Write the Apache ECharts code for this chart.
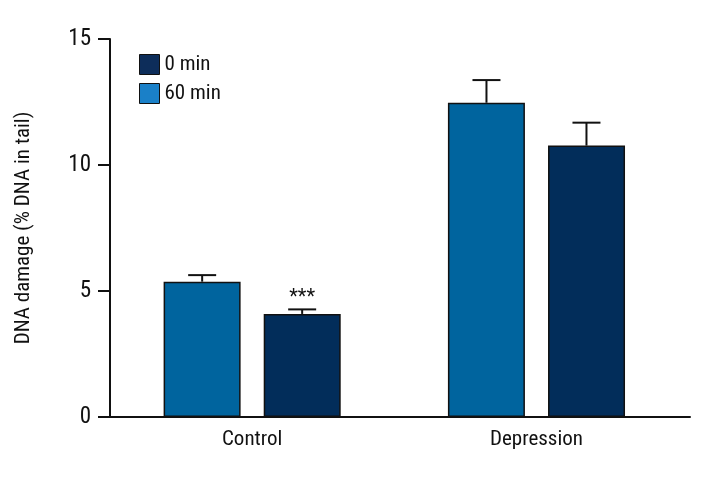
<!DOCTYPE html>
<html><head><meta charset="utf-8">
<script src="https://cdn.jsdelivr.net/npm/echarts@6/dist/echarts.min.js"></script>
<style>html,body{margin:0;padding:0;background:#fff}#c{width:720px;height:480px}</style>
</head><body><div id="c"></div>
<script>
const categories = ['Control', 'Depression'];
const min60 = [5.37, 12.47];
const min60Err = [0.26, 0.90];
const min0 = [4.09, 10.77];
const min0Err = [0.18, 0.91];
const sig0 = ['***', ''];
const yTicks = [0, 5, 10, 15];

const FONT = '"Liberation Sans Narrow", "Roboto Condensed", Roboto, sans-serif';
const BAR_W = 77, GAP = 23;
const chart = echarts.init(document.getElementById('c'));

function errSeries(name, vals, errs, offset, labels) {
  return {
    type: 'custom', name: name + ' err', silent: true, z: 5,
    data: vals.map((v, i) => [i, v, v + errs[i]]),
    renderItem: (params, api) => {
      const x = api.value(0), y = api.value(1), hi = api.value(2);
      const b = api.coord([x, y]), t = api.coord([x, hi]);
      const cx = b[0] + offset;
      const st = { stroke: '#111', lineWidth: 2 };
      const ch = [
        { type: 'line', shape: { x1: cx, y1: b[1], x2: cx, y2: t[1] }, style: st },
        { type: 'line', shape: { x1: cx - 14, y1: t[1], x2: cx + 14, y2: t[1] }, style: st }
      ];
      const lab = labels ? labels[params.dataIndex] : '';
      if (lab) ch.push({ type: 'text', style: { text: lab, x: cx, y: t[1] - 1, align: 'center', verticalAlign: 'bottom', font: '20px ' + FONT, fill: '#111' } });
      return { type: 'group', children: ch };
    }
  };
}

chart.setOption({
  animation: false,
  backgroundColor: '#fff',
  grid: { left: 110, right: 30, top: 39, bottom: 63 },
  legend: {
    left: 134, top: 49, orient: 'vertical', itemWidth: 20, itemHeight: 20, itemGap: 8, icon: 'rect',
    textStyle: { fontSize: 21, fontFamily: FONT, color: '#111' },
    data: [
      { name: '0 min', itemStyle: { color: '#0d2d5a', borderColor: '#111', borderWidth: 1 } },
      { name: '60 min', itemStyle: { color: '#1a80c8', borderColor: '#111', borderWidth: 1 } }
    ]
  },
  xAxis: {
    type: 'value', min: -0.5, max: 1.54,
    axisLine: { show: true, onZero: false, lineStyle: { color: '#111', width: 2 } },
    axisTick: { show: false }, splitLine: { show: false },
    axisLabel: { customValues: [0, 1], formatter: v => categories[Math.round(v)] || '', fontSize: 21, fontFamily: FONT, color: '#111', margin: 12 }
  },
  yAxis: {
    type: 'value', min: yTicks[0], max: yTicks[yTicks.length - 1], interval: 5,
    name: 'DNA damage (% DNA in tail)', nameLocation: 'middle', nameGap: 76,
    nameTextStyle: { fontSize: 21, fontFamily: FONT, color: '#111' },
    axisLine: { show: true, onZero: false, lineStyle: { color: '#111', width: 2 } },
    axisTick: { show: true, length: 12, lineStyle: { color: '#111', width: 2 } },
    splitLine: { show: false },
    axisLabel: { fontSize: 23, fontFamily: FONT, color: '#111', margin: 19 }
  },
  series: [
    { name: '60 min', type: 'bar', barWidth: BAR_W, barGap: (GAP / BAR_W * 100).toFixed(0) + '%',
      data: min60.map((v, i) => [i, v]),
      itemStyle: { color: '#00649e', borderColor: '#111', borderWidth: 1.5 } },
    { name: '0 min', type: 'bar', barWidth: BAR_W,
      data: min0.map((v, i) => [i, v]),
      itemStyle: { color: '#022d5a', borderColor: '#111', borderWidth: 1.5 } },
    errSeries('60 min', min60, min60Err, -(BAR_W + GAP) / 2, null),
    errSeries('0 min', min0, min0Err, (BAR_W + GAP) / 2, sig0)
  ]
});
</script></body></html>
